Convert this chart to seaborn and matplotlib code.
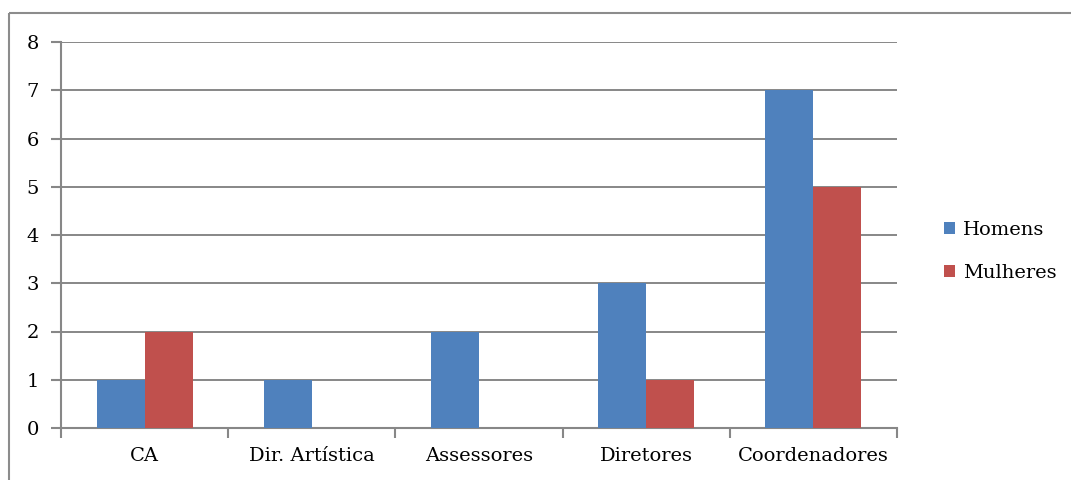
import matplotlib
matplotlib.use("Agg")
import matplotlib.pyplot as plt
from matplotlib.lines import Line2D
from matplotlib.ticker import FixedLocator
import seaborn as sns
import pandas as pd

categories = ["CA", "Dir. Artística", "Assessores", "Diretores", "Coordenadores"]
homens = [1, 1, 2, 3, 7]
mulheres = [2, 0, 0, 1, 5]
series_names = ["Homens", "Mulheres"]
y_ticks = [0, 1, 2, 3, 4, 5, 6, 7, 8]

df = pd.DataFrame({
    "categoria": categories * 2,
    "valor": homens + mulheres,
    "grupo": [series_names[0]] * len(categories) + [series_names[1]] * len(categories),
})

sns.set_style("white")
plt.rcParams["font.family"] = ["DejaVu Serif"]
plt.rcParams["text.color"] = "black"
plt.rcParams["xtick.color"] = "black"
plt.rcParams["ytick.color"] = "black"

grid_col = "#878787"
fig = plt.figure(figsize=(10.71, 4.8), dpi=100)
ax = fig.add_axes([61 / 1071, 1 - 428 / 480, (897 - 61) / 1071, (428 - 42) / 480])

sns.barplot(data=df, x="categoria", y="valor", hue="grupo", order=categories,
            hue_order=series_names, palette=["#4F81BD", "#C0504D"],
            width=0.574, saturation=1, ax=ax, legend=True, zorder=3)
for p in ax.patches:
    p.set_edgecolor("none")

ax.set_xlim(-0.5, len(categories) - 0.5)
ax.set_ylim(0, 8)
ax.set_yticks(y_ticks)
ax.yaxis.grid(True, color=grid_col, linewidth=1.4, zorder=0)
ax.set_axisbelow(True)
ax.set_xlabel("")
ax.set_ylabel("")

for side in ["top", "right"]:
    ax.spines[side].set_visible(False)
for side in ["left", "bottom"]:
    ax.spines[side].set_color(grid_col)
    ax.spines[side].set_linewidth(1.5)

ax.tick_params(axis="y", which="major", length=7, width=1.5, color=grid_col,
               labelsize=14, labelcolor="black", pad=9, left=True)
ax.tick_params(axis="x", which="major", length=0, labelsize=14, labelcolor="black", pad=14)
ax.xaxis.set_minor_locator(FixedLocator([i - 0.5 for i in range(len(categories) + 1)]))
ax.tick_params(axis="x", which="minor", length=7, width=1.5, color=grid_col, bottom=True)

leg = ax.legend(loc="center left", bbox_to_anchor=(1.035, 0.458), frameon=False,
                fontsize=14, handlelength=0.6, handleheight=0.6, handletextpad=0.4,
                labelspacing=1.3)
for t in leg.get_texts():
    t.set_color("black")

# outer chart frame: left and top edges
frame_kw = dict(transform=fig.transFigure, color="#8c8c8c", linewidth=1.5,
                solid_capstyle="butt")
fig.add_artist(Line2D([9 / 1071, 9 / 1071], [-0.02, 1 - 13 / 480], **frame_kw))
fig.add_artist(Line2D([9 / 1071, 1.02], [1 - 13 / 480, 1 - 13 / 480], **frame_kw))

fig.savefig("out.png", dpi=100)
